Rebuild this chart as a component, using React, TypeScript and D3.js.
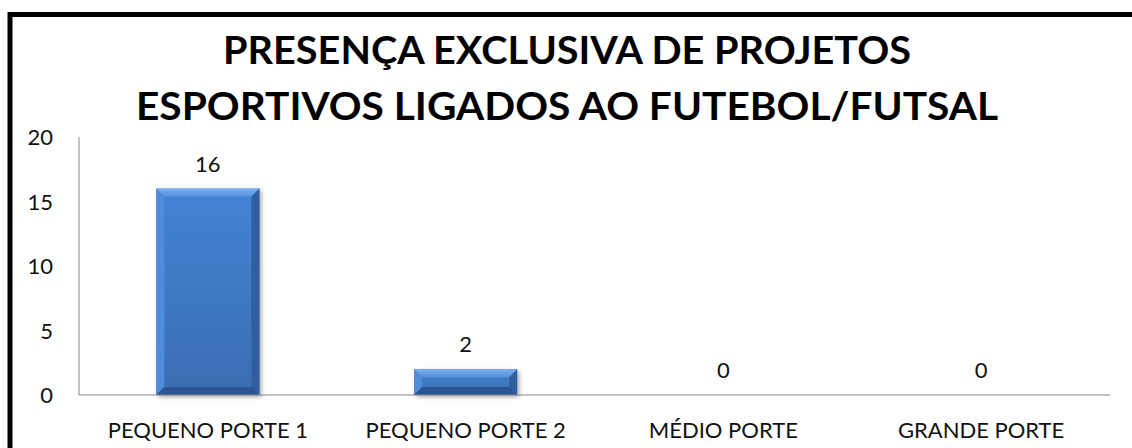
import React from "react";
import { scaleBand, scaleLinear } from "d3";

const categories = ["PEQUENO PORTE 1", "PEQUENO PORTE 2", "MÉDIO PORTE", "GRANDE PORTE"];
const values = [16, 2, 0, 0];
const yTicks = [0, 5, 10, 15, 20];
const titleLines = ["PRESENÇA EXCLUSIVA DE PROJETOS", "ESPORTIVOS LIGADOS AO FUTEBOL/FUTSAL"];

const W = 1132;
const H = 448;
const left = 79;
const right = 1110;
const top = 137;
const bottom = 395;
const font = "Lato, 'Open Sans', sans-serif";

const App = () => {
  const x = scaleBand<string>()
    .domain(categories)
    .range([left, right])
    .paddingInner(0.6)
    .paddingOuter(0.3);
  const y = scaleLinear().domain([0, 20]).range([bottom, top]);
  const bw = x.bandwidth();

  return (
    <svg
      width={W}
      height={H}
      style={{ position: "absolute", left: 0, top: 0, background: "#fff" }}
    >
      <defs>
        <linearGradient id="body" x1="0" y1="0" x2="0" y2="1">
          <stop offset="0" stopColor="#4383d4" />
          <stop offset="1" stopColor="#3a6db2" />
        </linearGradient>
        <linearGradient id="topFacet" x1="0" y1="0" x2="0" y2="1">
          <stop offset="0" stopColor="#7ab0ee" />
          <stop offset="1" stopColor="#5592e0" />
        </linearGradient>
        <filter id="shadow" x="-10%" y="-10%" width="130%" height="130%">
          <feDropShadow dx="2" dy="2" stdDeviation="2" floodColor="#000" floodOpacity="0.35" />
        </filter>
      </defs>

      {/* frame, cropped at right and bottom */}
      <path d={`M10,${H + 5} L10,14.5 L${W + 5},14.5`} fill="none" stroke="#000" strokeWidth={5} />

      {titleLines.map((t, i) => (
        <text
          key={t}
          x={567}
          y={64 + i * 56}
          textAnchor="middle"
          fontFamily={font}
          fontWeight="bold"
          fontSize={39}
          fill="#000"
          textLength={i === 0 ? 688 : 862}
          lengthAdjust="spacingAndGlyphs"
        >
          {t}
        </text>
      ))}

      {/* y axis */}
      <line x1={left} x2={left} y1={top} y2={bottom} stroke="#868686" strokeWidth={1} />
      {yTicks.map((t) => (
        <text
          key={t}
          x={53}
          y={y(t) + 8}
          textAnchor="end"
          fontFamily={font}
          fontSize={22}
          fill="#111"
        >
          {t}
        </text>
      ))}

      {/* bars */}
      {categories.map((c, i) => {
        const v = values[i];
        if (v <= 0) return null;
        const x0 = x(c) as number;
        const x1 = x0 + bw;
        const y0 = y(v);
        const y1 = y(0);
        const b = Math.min(8, (y1 - y0) / 2, bw / 2);
        return (
          <g key={c}>
            <rect x={x0} y={y0} width={bw} height={y1 - y0} fill="url(#body)" filter="url(#shadow)" />
            <polygon points={`${x0},${y0} ${x1},${y0} ${x1 - b},${y0 + b} ${x0 + b},${y0 + b}`} fill="url(#topFacet)" />
            <polygon points={`${x0},${y0} ${x0 + b},${y0 + b} ${x0 + b},${y1 - b} ${x0},${y1}`} fill="#4f8cdb" />
            <polygon points={`${x1},${y0} ${x1},${y1} ${x1 - b},${y1 - b} ${x1 - b},${y0 + b}`} fill="#2f5f9f" />
            <polygon points={`${x0},${y1} ${x0 + b},${y1 - b} ${x1 - b},${y1 - b} ${x1},${y1}`} fill="#2b5592" />
          </g>
        );
      })}

      {/* baseline */}
      <line x1={left} x2={right} y1={bottom} y2={bottom} stroke="#868686" strokeWidth={1} />

      {/* data labels */}
      {categories.map((c, i) => (
        <text
          key={c}
          x={(x(c) as number) + bw / 2}
          y={y(values[i]) - 17}
          textAnchor="middle"
          fontFamily={font}
          fontSize={22}
          fill="#111"
        >
          {values[i]}
        </text>
      ))}

      {/* category labels */}
      {categories.map((c) => (
        <text
          key={c}
          x={(x(c) as number) + bw / 2}
          y={438}
          textAnchor="middle"
          fontFamily={font}
          fontSize={22}
          fill="#111"
        >
          {c}
        </text>
      ))}
    </svg>
  );
};

export default App;
